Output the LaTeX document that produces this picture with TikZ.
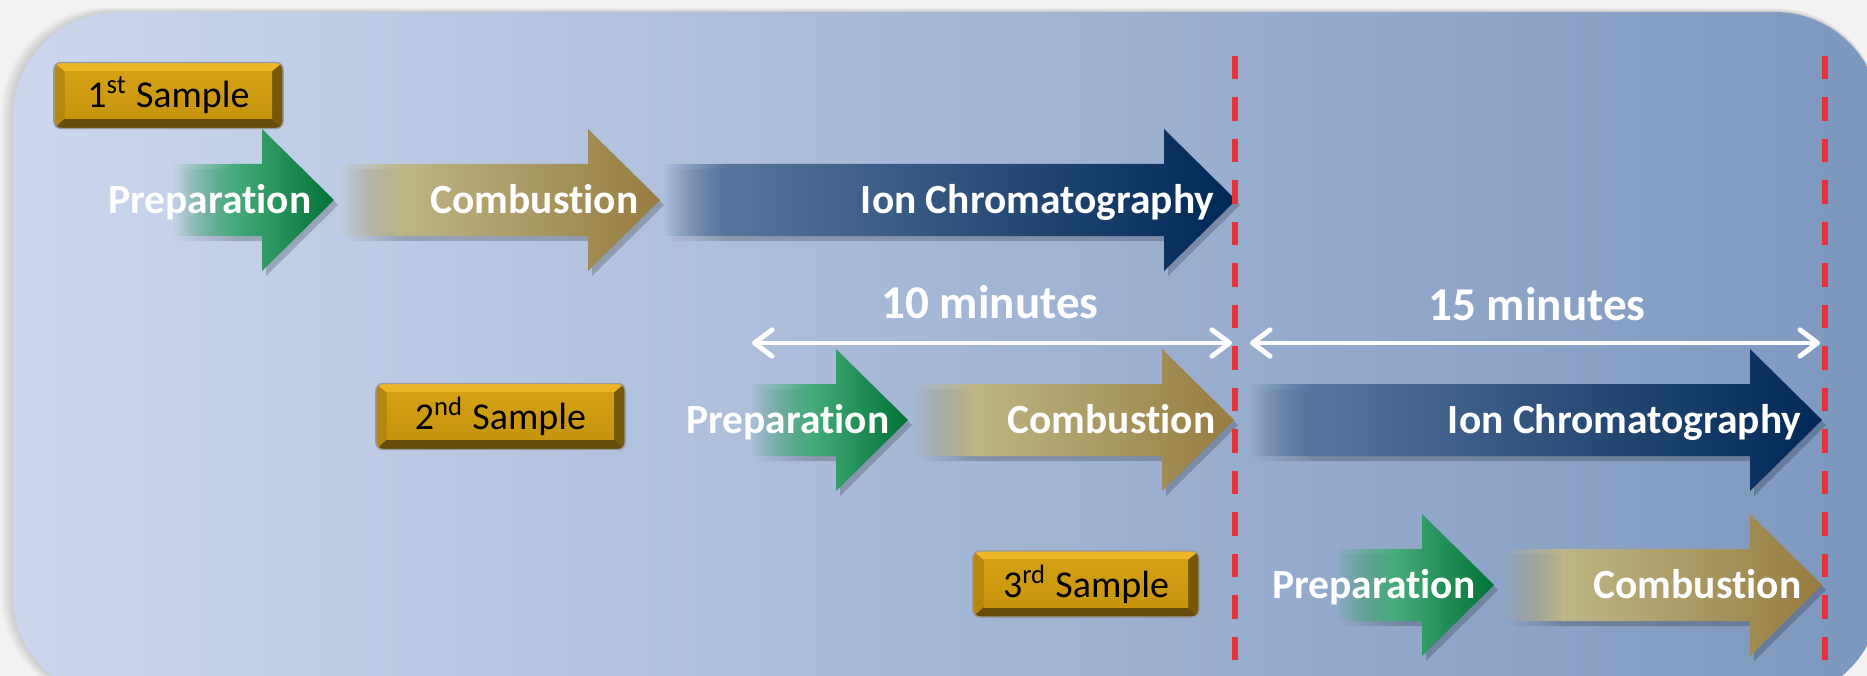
\documentclass[tikz,border=0pt]{standalone}
\usepackage{fontspec}
\setmainfont{Carlito}[Ligatures=NoCommon]
\usetikzlibrary{arrows.meta,fadings}

\definecolor{panelleft}{RGB}{204,215,238}
\definecolor{panelright}{RGB}{124,151,190}
\definecolor{greenlo}{RGB}{70,172,124}
\definecolor{greenmid}{RGB}{0,160,66}
\definecolor{greenhi}{RGB}{0,114,52}
\definecolor{goldlo}{RGB}{190,182,134}
\definecolor{goldmid}{RGB}{216,179,92}
\definecolor{goldhi}{RGB}{150,124,64}
\definecolor{bluelo}{RGB}{86,118,158}
\definecolor{bluemid}{RGB}{2,68,126}
\definecolor{bluehi}{RGB}{0,40,86}
\definecolor{boxface}{RGB}{198,148,14}
\definecolor{boxfacetop}{RGB}{212,160,20}
\definecolor{boxtop}{RGB}{236,182,40}
\definecolor{boxbottom}{RGB}{102,76,10}
\definecolor{boxleft}{RGB}{182,136,16}
\definecolor{boxright}{RGB}{118,88,10}
\definecolor{cutred}{RGB}{230,50,56}

\tikzfading[name=fade in, left color=transparent!100, right color=transparent!0]

% stage arrow: colour stem, x start, x tip, y centre
\newcommand{\stagearrow}[4]{%
  \begin{scope}[transparency group, opacity=.2]
    \fill[black, path fading=fade in] (#2+4,#4-31) rectangle (#2+65,#4+41);
    \fill[black] (#2+64,#4-31) -- (#3-68,#4-31) -- (#3-68,#4-66) -- (#3+4,#4+5)
      -- (#3-68,#4+76) -- (#3-68,#4+41) -- (#2+64,#4+41) -- cycle;
  \end{scope}
  \fill[#1lo, path fading=fade in] (#2,#4-36) rectangle (#2+61,#4+36);
  \shade[left color=#1lo, middle color=#1mid, right color=#1hi]
    (#2+60,#4-36) -- (#3-72,#4-36) -- (#3-72,#4-71) -- (#3,#4)
    -- (#3-72,#4+71) -- (#3-72,#4+36) -- (#2+60,#4+36) -- cycle;
}

\begin{document}
\begin{tikzpicture}[x=0.01cm, y=-0.01cm,
  stagelabel/.style={text=white, font=\fontsize{11.8}{14}\selectfont\bfseries, inner sep=0pt},
  timelabel/.style={text=white, font=\fontsize{13.4}{16}\selectfont\bfseries, inner sep=0pt},
  samplebox/.style={minimum width=#1, minimum height=0.66cm, inner sep=0pt, rounded corners=2pt,
    fill=boxleft, draw=black!40, line width=0.4pt, font=\fontsize{10.8}{13}\selectfont,
    path picture={
      \coordinate (bnw) at (path picture bounding box.north west);
      \coordinate (bne) at (path picture bounding box.north east);
      \coordinate (bsw) at (path picture bounding box.south west);
      \coordinate (bse) at (path picture bounding box.south east);
      \fill[sharp corners, boxtop] (bnw) -- (bne) -- ([shift={(-11,9)}]bne) -- ([shift={(11,9)}]bnw) -- cycle;
      \fill[sharp corners, boxbottom] (bsw) -- (bse) -- ([shift={(-11,-10)}]bse) -- ([shift={(11,-10)}]bsw) -- cycle;
      \fill[sharp corners, boxright] (bne) -- (bse) -- ([shift={(-11,-10)}]bse) -- ([shift={(-11,9)}]bne) -- cycle;
      \shade[sharp corners, top color=boxfacetop, bottom color=boxface]
        ([shift={(11,9)}]bnw) rectangle ([shift={(-11,-10)}]bse);
    }},
  span/.style={draw=white, line width=1.4pt, line cap=round,
    arrows={Straight Barb[length=5pt,width=7.5pt,round]-Straight Barb[length=5pt,width=7.5pt,round]}},
  cutmark/.style={draw=cutred, line width=1.6pt, dash pattern=on 6.6pt off 5.2pt}]

  \useasboundingbox (0,0) rectangle (1867,676);

  % backdrop and panel
  \fill[gray!10] (0,0) rectangle (1867,676);
  \foreach \s in {2,4,...,12}
    \fill[black, opacity=.025, rounded corners=1.05cm] (13-\s,12-\s/3) rectangle (1880,700);
  \shade[left color=panelleft, right color=panelright, rounded corners=1.05cm]
    (13,12) rectangle (1880,700);

  % first sample
  \stagearrow{green}{172}{334}{200}
  \stagearrow{gold}{339}{660}{200}
  \stagearrow{blue}{662}{1236}{200}
  \node[stagelabel, anchor=base east] (prep1) at (312,213) {Preparation};
  \node[stagelabel, anchor=base east] (comb1) at (639,213) {Combustion};
  \node[stagelabel, anchor=base east] (ion1) at (1215,213) {Ion Chromatography};

  % second sample
  \stagearrow{green}{750}{908}{420}
  \stagearrow{gold}{912}{1234}{420}
  \stagearrow{blue}{1248}{1822}{420}
  \node[stagelabel, anchor=base east] (prep2) at (890,433) {Preparation};
  \node[stagelabel, anchor=base east] (comb2) at (1216,433) {Combustion};
  \node[stagelabel, anchor=base east] (ion2) at (1802,433) {Ion Chromatography};

  % third sample
  \stagearrow{green}{1333}{1494}{585}
  \stagearrow{gold}{1502}{1822}{585}
  \node[stagelabel, anchor=base east] (prep3) at (1476,598) {Preparation};
  \node[stagelabel, anchor=base east] (comb3) at (1802,598) {Combustion};

  \node[samplebox=2.29cm] (first) at (168.5,95.5) {1\textsuperscript{st} Sample};
  \node[samplebox=2.49cm] (second) at (500.5,416.5) {2\textsuperscript{nd} Sample};
  \node[samplebox=2.26cm] (third) at (1086,584) {3\textsuperscript{rd} Sample};

  % timing
  \coordinate (cut1 top) at (1235,56);
  \coordinate (cut1 bot) at (1235,661);
  \coordinate (cut2 top) at (1825,56);
  \coordinate (cut2 bot) at (1825,661);
  \coordinate (span1 a) at (752,343);
  \coordinate (span1 b) at (1232,343);
  \coordinate (span2 a) at (1250,343);
  \coordinate (span2 b) at (1820,343);

  \draw[span] (span1 a) -- (span1 b);
  \draw[span] (span2 a) -- (span2 b);
  \node[timelabel, anchor=base] (ten) at (990,318) {10 minutes};
  \node[timelabel, anchor=base] (fifteen) at (1537,320) {15 minutes};

  \draw[cutmark] (cut1 top) -- (cut1 bot);
  \draw[cutmark] (cut2 top) -- (cut2 bot);
\end{tikzpicture}
\end{document}
